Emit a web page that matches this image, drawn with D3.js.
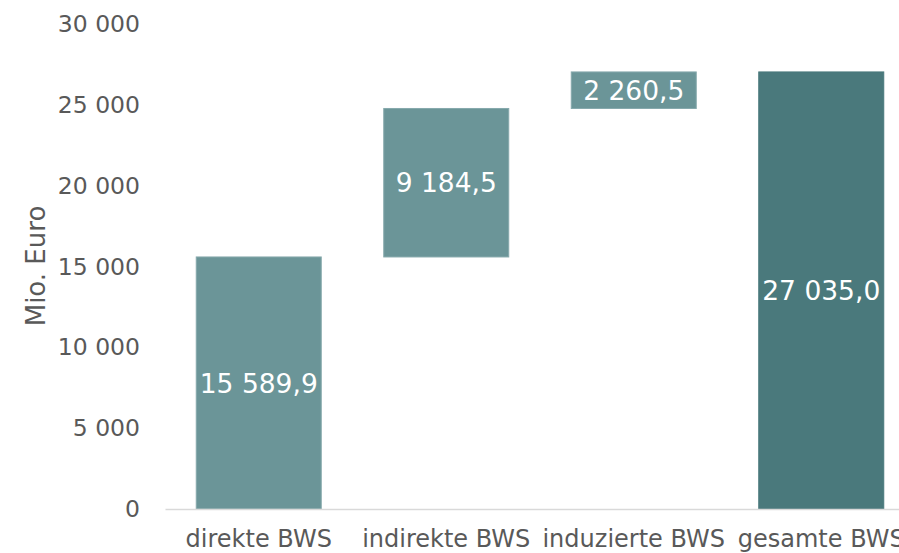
<!DOCTYPE html>
<html>
<head>
<meta charset="utf-8">
<script src="https://cdn.jsdelivr.net/npm/d3@7"></script>
<style>
  body { margin: 0; background: #fff; }
  svg { font-family: "DejaVu Sans", Verdana, sans-serif; }
</style>
</head>
<body>
<div id="chart"></div>
<script>
        // Categories and values (Mio. Euro)
        const categories = ["direkte BWS", "indirekte BWS", "induzierte BWS", "gesamte BWS"];
        const values = [15589.9, 9184.5, 2260.5, 27035.0];
        const isTotal = [false, false, false, true];
        const yTicks = [0, 5000, 10000, 15000, 20000, 25000, 30000];

        const width = 899;
        const height = 553;

        // German style number formats
        const de = d3.formatLocale({ decimal: ",", thousands: " ", grouping: [3], currency: ["", " €"] });
        const fmtTick = de.format(",.0f");
        const fmtVal = de.format(",.1f");

        const svg = d3.select("#chart")
            .append("svg")
            .attr("width", width)
            .attr("height", height);

        // Scales
        const x = d3.scaleBand()
            .domain(categories)
            .range([165, 915])
            .paddingInner(1 / 3)
            .paddingOuter(1 / 6);

        const y = d3.scaleLinear()
            .domain([0, 30000])
            .range([509, 24]);

        // Waterfall: running start/end for each bar
        let running = 0;
        const bars = categories.map((c, i) => {
            let start, end;
            if (isTotal[i]) {
                start = 0;
                end = values[i];
            } else {
                start = running;
                end = running + values[i];
                running = end;
            }
            return { cat: c, value: values[i], start: start, end: end, total: isTotal[i] };
        });

        // Y axis (labels only)
        const yAxis = svg.append("g")
            .attr("transform", "translate(140,0)")
            .call(d3.axisLeft(y).tickValues(yTicks).tickFormat(fmtTick).tickSize(0).tickPadding(0));
        yAxis.select(".domain").remove();
        yAxis.selectAll("text")
            .attr("fill", "#595959")
            .style("font-size", "23.5px")
            .style("font-family", "'DejaVu Sans', Verdana, sans-serif");

        // Y axis title
        svg.append("text")
            .attr("transform", "translate(45,266) rotate(-90)")
            .attr("text-anchor", "middle")
            .attr("fill", "#595959")
            .style("font-size", "26px")
            .text("Mio. Euro");

        // Bars
        svg.selectAll("rect.bar")
            .data(bars)
            .enter()
            .append("rect")
            .attr("class", "bar")
            .attr("x", d => x(d.cat))
            .attr("width", x.bandwidth())
            .attr("y", d => y(d.end))
            .attr("height", d => y(d.start) - y(d.end))
            .attr("fill", d => d.total ? "#4a797c" : "#6b9598")
            .attr("stroke", d => d.total ? "#4a797c" : "#86a9ac")
            .attr("stroke-width", 1);

        // X axis line and labels
        const xAxis = svg.append("g")
            .attr("transform", "translate(0," + y(0) + ")")
            .call(d3.axisBottom(x).tickSize(0).tickPadding(21).tickSizeOuter(0));
        xAxis.select(".domain").attr("stroke", "#d9d9d9").attr("stroke-width", 1.5);
        xAxis.selectAll("text")
            .attr("fill", "#595959")
            .style("font-size", "24px")
            .style("font-family", "'DejaVu Sans', Verdana, sans-serif");

        // Value labels in the middle of each bar
        svg.selectAll("text.val")
            .data(bars)
            .enter()
            .append("text")
            .attr("class", "val")
            .attr("x", d => x(d.cat) + x.bandwidth() / 2)
            .attr("y", d => (y(d.start) + y(d.end)) / 2)
            .attr("dy", "0.36em")
            .attr("text-anchor", "middle")
            .attr("fill", "#ffffff")
            .style("font-size", "26.5px")
            .text(d => fmtVal(d.value));
</script>
</body>
</html>
